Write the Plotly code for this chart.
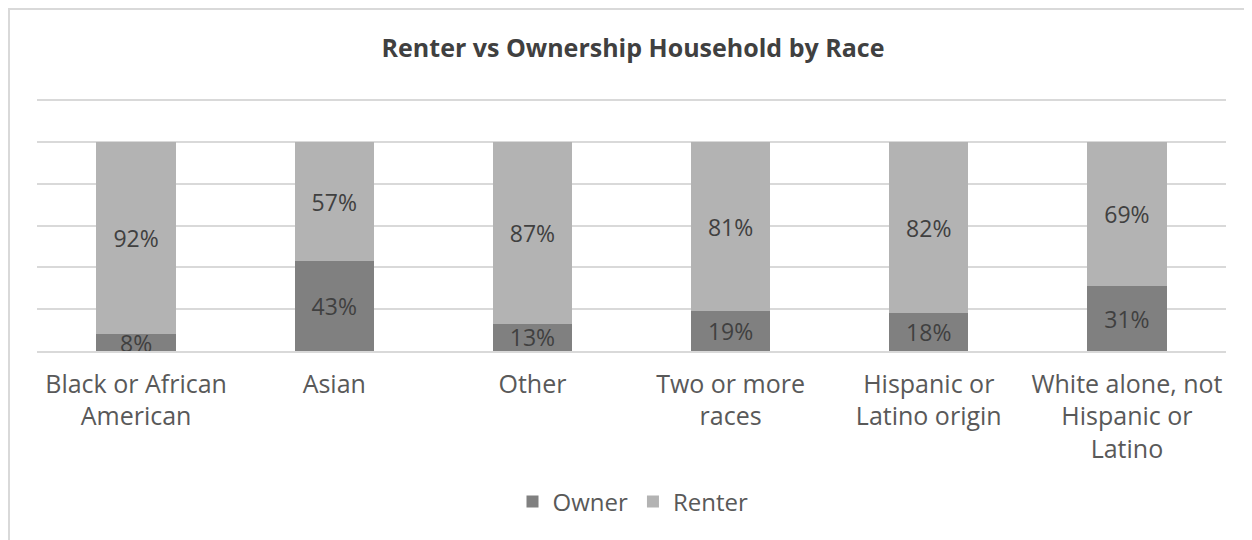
import plotly.graph_objects as go

categories = ["Black or African<br>American", "Asian", "Other", "Two or more<br>races",
              "Hispanic or<br>Latino origin", "White alone, not<br>Hispanic or<br>Latino"]
owner = [0.08, 0.43, 0.13, 0.19, 0.18, 0.31]
renter = [0.92, 0.57, 0.87, 0.81, 0.82, 0.69]
owner_labels = ["8%", "43%", "13%", "19%", "18%", "31%"]
renter_labels = ["92%", "57%", "87%", "81%", "82%", "69%"]

FONT = "Open Sans"
W, H = 1244, 532          # page body has an 8px margin
L, R, T, B = 29, 26, 90, 189
PW, PH = W - L - R, H - T - B

fig = go.Figure()
fig.add_trace(go.Bar(x=categories, y=owner, name="Owner", marker_color="#808080",
                     text=owner_labels, textposition="inside", insidetextanchor="middle",
                     textfont=dict(color="#404040", size=23, family=FONT),
                     marker_line_width=0, hoverinfo="skip"))
fig.add_trace(go.Bar(x=categories, y=renter, name="Renter", marker_color="#b3b3b3",
                     text=renter_labels, textposition="inside", insidetextanchor="middle",
                     textfont=dict(color="#404040", size=23, family=FONT),
                     marker_line_width=0, hoverinfo="skip"))

fig.update_layout(
    barmode="stack", bargap=0.6,
    width=W, height=H,
    margin=dict(l=L, r=R, t=T, b=B),
    paper_bgcolor="white", plot_bgcolor="white",
    font=dict(family=FONT, color="#595959", size=24),
    title=dict(text="<b>Renter vs Ownership Household by Race</b>",
               x=(625 - L) / PW, xref="paper", xanchor="center",
               y=1 - 40 / H, yanchor="middle", font=dict(size=25, color="#404040", family=FONT)),
    uniformtext=dict(minsize=23, mode="show"),
    legend=dict(orientation="h", x=(625 - L) / PW, xanchor="center",
                y=-(494 - (T + PH)) / PH, yanchor="middle",
                font=dict(size=24, color="#595959"), traceorder="normal", itemwidth=30),
    showlegend=True,
)
fig.update_yaxes(range=[0, 1.21], tickvals=[0, 0.2, 0.4, 0.6, 0.8, 1.0, 1.2],
                 showticklabels=False, showgrid=True,
                 gridcolor="#d9d9d9", gridwidth=1.5, zeroline=False, fixedrange=True)
fig.update_xaxes(showline=True, linecolor="#d9d9d9", linewidth=1.5, ticks="",
                 ticklabelstandoff=10,
                 tickfont=dict(size=25, color="#595959"), fixedrange=True)
fig.add_shape(type="rect", xref="paper", yref="paper",
              x0=(1 - L) / PW, x1=1.1, y0=-1.0, y1=1 + (T - 1) / PH,
              line=dict(color="#d9d9d9", width=2), layer="below")
fig.write_html("out.html", config={"displayModeBar": False})
